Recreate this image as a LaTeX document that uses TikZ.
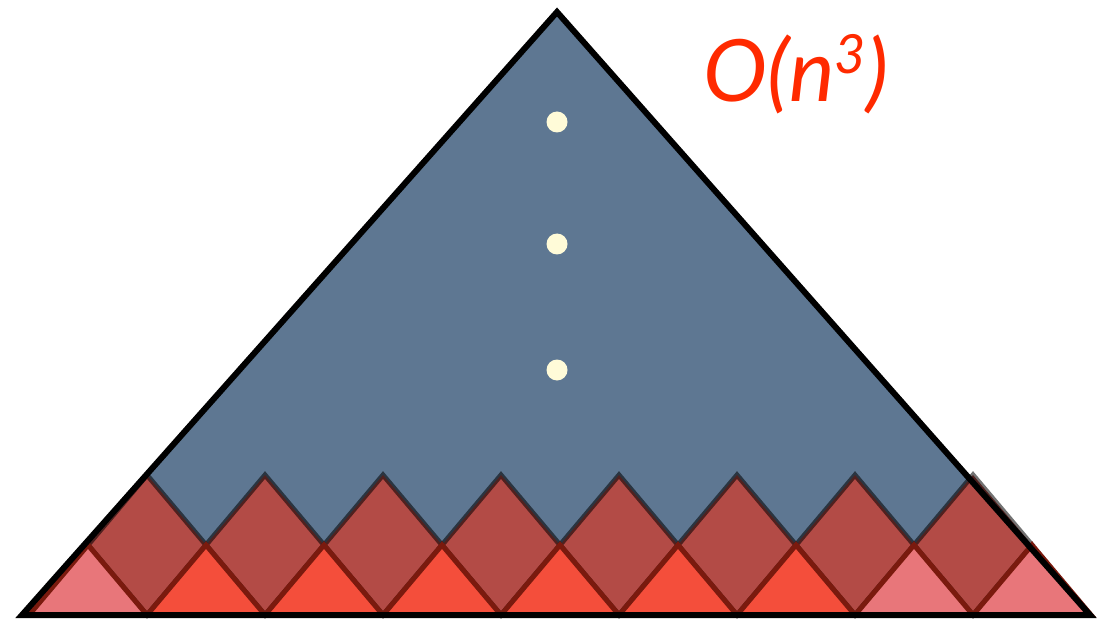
\documentclass[tikz,border=0pt]{standalone}
\usepackage{fontspec}
\newfontfamily\costfont{Lato}
\usetikzlibrary{calc}
\definecolor{slate}{HTML}{5E7792}
\definecolor{subred}{HTML}{B34B46}
\definecolor{leafred}{HTML}{F44E3B}
\definecolor{leafpink}{HTML}{E8767A}
\definecolor{edgered}{HTML}{7A1A0E}
\definecolor{dotcream}{HTML}{FFFBD8}
\definecolor{costred}{HTML}{FF2A00}
\tikzset{
  outer tri/.style={
    draw=black,
    line width=6pt,
    line join=miter
  },
  sub diamond/.style={
    fill=subred,
    draw=black,
    draw opacity=0.55,
    line width=5pt
  },
  leaf tri/.style={fill=leafred, draw=edgered, line width=5pt},
  leaf pink/.style={leaf tri, fill=leafpink},
  level dot/.style={circle, fill=dotcream, inner sep=0pt, minimum size=21pt},
  cost label/.style={text=costred, font=\costfont\itshape\fontsize{86}{86}\selectfont}
}
\begin{document}
\begin{tikzpicture}[x=1pt,y=-1pt]
  \useasboundingbox (0,0) rectangle (1102,620);
  \coordinate (apex) at (557,12);
  \coordinate (baseL) at (22,615);
  \coordinate (baseR) at (1090,615);
  \fill[slate] (apex) -- (baseL) -- (baseR) -- cycle;

  % second level: diamonds
  \foreach \i in {0,...,7}
    \draw[sub diamond] ({147+118*\i},475) -- ++(59,70) -- ++(-59,70) -- ++(-59,-70) -- cycle;

  % bottom level
  \foreach \i in {1,...,6}
    \draw[leaf tri] ({88+118*\i},545) -- ++(59,70) -- ++(-118,0) -- cycle;
  \foreach \i in {0,7,8}
    \draw[leaf pink] ({88+118*\i},545) -- ++(59,70) -- ++(-118,0) -- cycle;

  \draw[outer tri] (apex) -- (baseL) -- (baseR) -- cycle;

  \foreach \y [count=\k] in {122,244,370}
    \node[level dot] (dot\k) at (557,\y) {};

  \node[cost label] (cost) at (796,74)
    {O(n\raisebox{0.32em}{\fontsize{54}{54}\selectfont 3})};
\end{tikzpicture}
\end{document}
